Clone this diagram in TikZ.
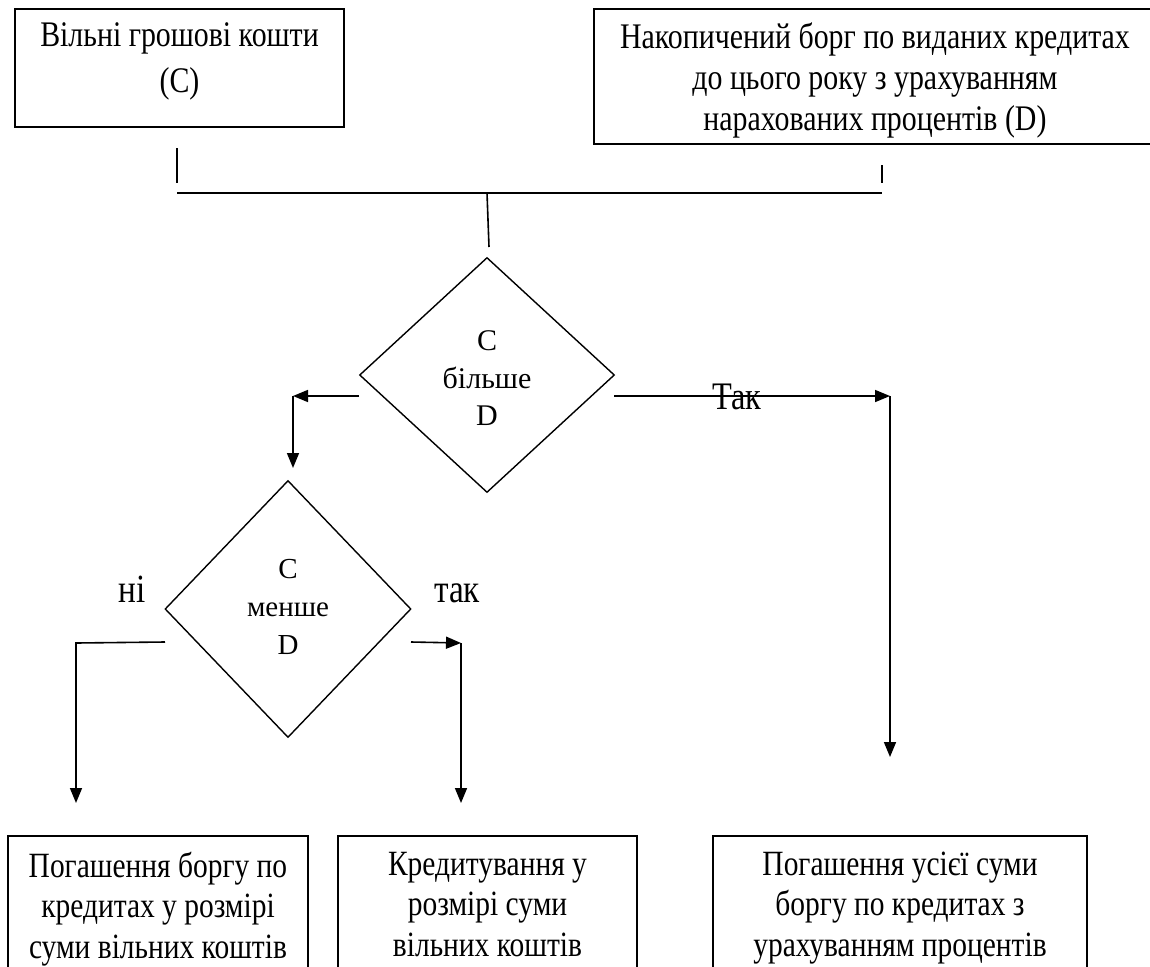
\documentclass[tikz,border=0pt]{standalone}
\usepackage{fontspec}
\setmainfont{Liberation Serif}[FakeStretch=0.83]
\newfontfamily\diafont{Liberation Serif}
\usetikzlibrary{arrows.meta,shapes.geometric}
\begin{document}
\begin{tikzpicture}[x=1pt,y=-1pt,
  line width=1.6pt,
  box/.style={draw, rectangle, inner sep=0pt},
  dia/.style={draw, diamond, inner sep=0pt, line width=1.4pt},
  txt/.style={inner sep=0pt, align=center, anchor=north},
  lbl/.style={inner sep=0pt, anchor=base, font=\fontsize{40pt}{44pt}\selectfont},
  arr/.style={-{Triangle[length=15pt,width=12pt]}},
]
\useasboundingbox (0,0) rectangle (1150,966);
\clip (0,0) rectangle (1150,966);

% top boxes
\node[box, minimum width=329pt, minimum height=118pt] (b1) at (179.5,68) {};
\node[txt, font=\fontsize{36pt}{46pt}\selectfont] (t1) at (179.5,22) {Вільні грошові кошти\\(C)};
\node[box, minimum width=562pt, minimum height=135pt] (b2) at (875,76.5) {};
\node[txt, font=\fontsize{36pt}{41pt}\selectfont] (t2) at (875,22) {Накопичений борг по виданих кредитах\\до цього року з урахуванням\\нарахованих процентів (D)};

% diamonds
\node[dia, minimum width=255pt, minimum height=235pt] (d1) at (487,375) {};
\node[txt, font=\diafont\fontsize{30pt}{37.5pt}\selectfont] (dt1) at (487,330) {C\\більше\\D};
\node[dia, minimum width=246pt, minimum height=257pt] (d2) at (288,609) {};
\node[txt, font=\diafont\fontsize{29pt}{38pt}\selectfont] (dt2) at (288,558) {C\\менше\\D};

% bottom boxes
\node[box, minimum width=300pt, minimum height=164pt] (bA) at (158,918) {};
\node[txt, font=\fontsize{35.5pt}{40.5pt}\selectfont] (tA) at (158,851) {Погашення боргу по\\кредитах у розмірі\\суми вільних коштів};
\node[box, minimum width=299pt, minimum height=164pt] (bB) at (487.5,918) {};
\node[txt, font=\fontsize{35.5pt}{40.5pt}\selectfont] (tB) at (487.5,851) {Кредитування у\\розмірі суми\\вільних коштів};
\node[box, minimum width=374pt, minimum height=164pt] (bC) at (900,918) {};
\node[txt, font=\fontsize{35.5pt}{40.5pt}\selectfont] (tC) at (900,851) {Погашення усієї суми\\боргу по кредитах з\\урахуванням процентів};

% labels
\node[lbl, font=\fontsize{39pt}{44pt}\selectfont] (ltak) at (737,409) {Так};
\node[lbl] (lni) at (132,602) {ні};
\node[lbl] (ltak2) at (457,602) {так};

% coordinates
\coordinate (c1a) at (177,148); \coordinate (c1b) at (177,183);
\coordinate (c2a) at (882,165); \coordinate (c2b) at (882,183);
\coordinate (hl) at (177,193); \coordinate (hr) at (882,193);
\coordinate (vt) at (487,193); \coordinate (vb) at (489,247);
\coordinate (l1) at (359,396); \coordinate (l2) at (293,396); \coordinate (l3) at (293,468);
\coordinate (r1) at (614,396); \coordinate (r2) at (890,396); \coordinate (r3) at (890,757);
\coordinate (p1) at (165,642); \coordinate (p2) at (76,643); \coordinate (p3) at (76,803);
\coordinate (q1) at (411,642); \coordinate (q2) at (461,643); \coordinate (q3) at (461,803);

% connectors
\draw (c1a) -- (c1b);
\draw (c2a) -- (c2b);
\draw (hl) -- (hr);
\draw (vt) -- (vb);
\draw[arr] (l1) -- (l2);
\draw[arr] (l2) -- (l3);
\draw[arr] (r1) -- (r2);
\draw[arr] (r2) -- (r3);
\draw[arr] (p1) -- (p2) -- (p3);
\draw[arr] (q1) -- (q2);
\draw[arr] (q2) -- (q3);
\end{tikzpicture}
\end{document}
